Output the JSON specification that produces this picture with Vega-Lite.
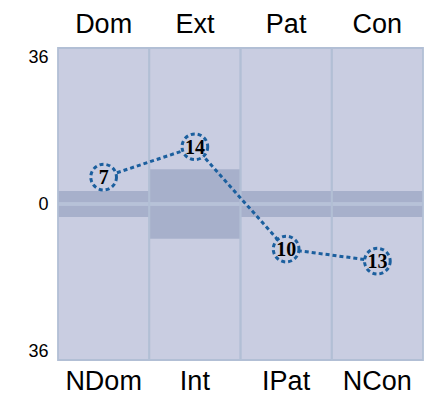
{
  "$schema": "https://vega.github.io/schema/vega-lite/v6.json",
  "width": 365,
  "height": 312,
  "autosize": {"type": "none"},
  "padding": {"left": 58, "top": 48, "right": 12, "bottom": 40},
  "background": "white",
  "config": {"view": {"stroke": null}, "font": "Liberation Sans"},
  "data": {"values": [
    {"top": "Dom", "bot": "NDom", "lo": -3, "hi": 3, "v": 6.2, "n": "7"},
    {"top": "Ext", "bot": "Int", "lo": -8, "hi": 8, "v": 13.2, "n": "14"},
    {"top": "Pat", "bot": "IPat", "lo": -3, "hi": 3, "v": -10.4, "n": "10"},
    {"top": "Con", "bot": "NCon", "lo": -3, "hi": 3, "v": -13.2, "n": "13"}
  ]},
  "resolve": {"scale": {"x": "independent"}},
  "layer": [
    {
      "mark": {"type": "rect", "fill": "#c9cde1"},
      "encoding": {
        "x": {"field": "bot", "type": "nominal", "sort": null,
          "scale": {"type": "band", "paddingInner": 0, "paddingOuter": 0},
          "axis": {"orient": "bottom", "title": null, "labelAngle": 0, "labelFontSize": 27, "labelColor": "black", "ticks": false, "domain": false, "labelPadding": 8}},
        "y": {"datum": -36, "type": "quantitative",
          "scale": {"domain": [-36, 36], "nice": false, "zero": false},
          "axis": {"values": [-36, 0, 36], "labelExpr": "'' + abs(datum.value)", "title": null, "ticks": false, "domain": false, "grid": false, "labelFlush": true, "labelFontSize": 18, "labelColor": "black", "labelPadding": 10}},
        "y2": {"datum": 36}
      }
    },
    {
      "layer": [
        {
          "mark": {"type": "rect", "fill": "#a7b0cb"},
          "encoding": {
            "x": {"field": "top", "type": "nominal", "sort": null,
              "scale": {"type": "band", "paddingInner": 0, "paddingOuter": 0},
              "axis": {"orient": "top", "title": null, "labelAngle": 0, "labelFontSize": 27, "labelColor": "black", "ticks": false, "domain": false, "labelPadding": 10}},
            "y": {"field": "lo", "type": "quantitative"},
            "y2": {"field": "hi"}
          }
        },
        {
          "mark": {"type": "rule", "color": "#b7c2d8", "strokeWidth": 3},
          "encoding": {"y": {"datum": 0, "type": "quantitative"}}
        },
        {
          "mark": {"type": "rect", "fill": null, "stroke": "#b2bfd5", "strokeWidth": 1.8},
          "encoding": {
            "x": {"field": "top", "type": "nominal", "sort": null},
            "y": {"datum": -36, "type": "quantitative"},
            "y2": {"datum": 36}
          }
        },
        {
          "mark": {"type": "line", "color": "#1b5f9e", "strokeWidth": 3, "strokeDash": [4, 3]},
          "encoding": {
            "x": {"field": "top", "type": "nominal", "sort": null},
            "y": {"field": "v", "type": "quantitative"}
          }
        },
        {
          "mark": {"type": "point", "shape": "circle", "filled": false, "fill": "#c9cde1", "fillOpacity": 1, "opacity": 1, "stroke": "#1b5f9e", "strokeWidth": 3, "strokeDash": [4, 3], "size": 660},
          "encoding": {
            "x": {"field": "top", "type": "nominal", "sort": null},
            "y": {"field": "v", "type": "quantitative"}
          }
        },
        {
          "mark": {"type": "text", "font": "Liberation Serif", "fontWeight": "bold", "fontSize": 20, "color": "black", "baseline": "middle", "dy": 1},
          "encoding": {
            "x": {"field": "top", "type": "nominal", "sort": null},
            "y": {"field": "v", "type": "quantitative"},
            "text": {"field": "n"}
          }
        }
      ]
    }
  ]
}
